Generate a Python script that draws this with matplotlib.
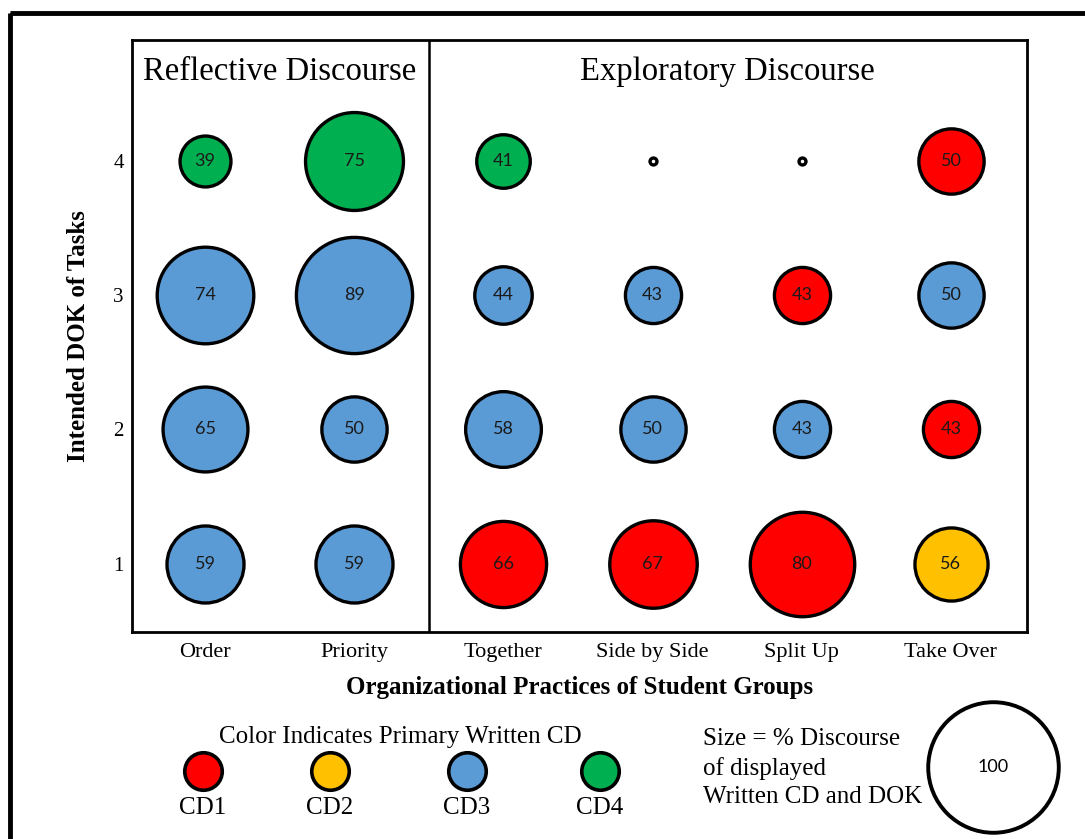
import matplotlib
matplotlib.use("Agg")
import matplotlib.pyplot as plt
from matplotlib.patches import Rectangle

# Data
practices = ["Order", "Priority", "Together", "Side by Side", "Split Up", "Take Over"]
dok_levels = [1, 2, 3, 4]

# % discourse per practice, listed for DOK 1..4
order_vals = [59, 65, 74, 39]
priority_vals = [59, 50, 89, 75]
together_vals = [66, 58, 44, 41]
side_vals = [67, 50, 43, 0]
split_vals = [80, 43, 43, 0]
takeover_vals = [56, 43, 50, 50]

# primary written CD per practice, DOK 1..4 (0 = none)
order_cd = [3, 3, 3, 4]
priority_cd = [3, 3, 3, 4]
together_cd = [1, 3, 3, 4]
side_cd = [1, 3, 3, 0]
split_cd = [1, 3, 1, 0]
takeover_cd = [2, 1, 3, 1]

values = [order_vals, priority_vals, together_vals, side_vals, split_vals, takeover_vals]
cds = [order_cd, priority_cd, together_cd, side_cd, split_cd, takeover_cd]

cd_names = ["CD1", "CD2", "CD3", "CD4"]
cd_colors = {0: "white", 1: "#FF0000", 2: "#FFC000", 3: "#5B9BD5", 4: "#00B050"}
legend_size_value = 100

SERIF = "Liberation Serif"
SANS = "Lato"
K = 0.94  # marker diameter (pt) per % point


def msize(v):
    return max(v * K, 5) ** 2


fig = plt.figure(figsize=(10.85, 8.39), dpi=100)
ax = fig.add_axes([132 / 1085, 1 - 632 / 839, 895 / 1085, 592 / 839])

for i, (vals, cols) in enumerate(zip(values, cds)):
    for dok, v, c in zip(dok_levels, vals, cols):
        ax.scatter(i, dok, s=msize(v), facecolor=cd_colors[c],
                   edgecolor="black", linewidth=2.4, zorder=3)
        if v > 0:
            ax.text(i, dok, str(v), ha="center", va="center", fontsize=13,
                    family=SANS, color="#1a1a1a", zorder=4)

ax.set_xlim(-0.49, 5.51)
ax.set_ylim(0.49, 4.9)
ax.axvline(1.5, color="black", lw=1.8)
for sp in ax.spines.values():
    sp.set_linewidth(2)

ax.set_xticks(range(len(practices)))
ax.set_xticklabels(practices, family=SERIF, fontsize=16)
ax.set_yticks(dok_levels)
ax.set_yticklabels([str(d) for d in dok_levels], family=SERIF, fontsize=15)
ax.tick_params(length=0)
ax.tick_params(axis="x", pad=8)
ax.tick_params(axis="y", pad=6)
ax.set_xlabel("Organizational Practices of Student Groups", family=SERIF,
              fontsize=18, fontweight="bold", labelpad=10)
ax.set_ylabel("Intended DOK of Tasks", family=SERIF, fontsize=18,
              fontweight="bold", labelpad=17)

ax.text(0.5, 4.66, "Reflective Discourse", ha="center", va="center",
        family=SERIF, fontsize=23.5)
ax.text(3.5, 4.66, "Exploratory Discourse", ha="center", va="center",
        family=SERIF, fontsize=23.5)

# overlay in pixel coordinates for legend and frame
ov = fig.add_axes([0, 0, 1, 1], facecolor="none")
ov.set_xlim(0, 1085)
ov.set_ylim(839, 0)
ov.axis("off")
ov.add_patch(Rectangle((10, 13), 1200, 1000, fill=False, lw=3.5,
                       edgecolor="black", clip_on=False))

ov.text(400, 737, "Color Indicates Primary Written CD", ha="center",
        va="center", family=SERIF, fontsize=18)
leg_x = [203, 330, 467, 600]
for x, name, c in zip(leg_x, cd_names, [1, 2, 3, 4]):
    ov.scatter(x, 771, s=27 ** 2, facecolor=cd_colors[c], edgecolor="black",
               linewidth=2.6)
    ov.text(x, 808, name, ha="center", va="center", family=SERIF, fontsize=18)

ov.text(703, 768, "Size = % Discourse\nof displayed\nWritten CD and DOK",
        ha="left", va="center", family=SERIF, fontsize=18, linespacing=1.38)
ov.scatter(993, 767, s=msize(legend_size_value), facecolor="white",
           edgecolor="black", linewidth=2.8)
ov.text(993, 767, str(legend_size_value), ha="center", va="center",
        family=SANS, fontsize=13)

fig.savefig("out.png", dpi=100)
